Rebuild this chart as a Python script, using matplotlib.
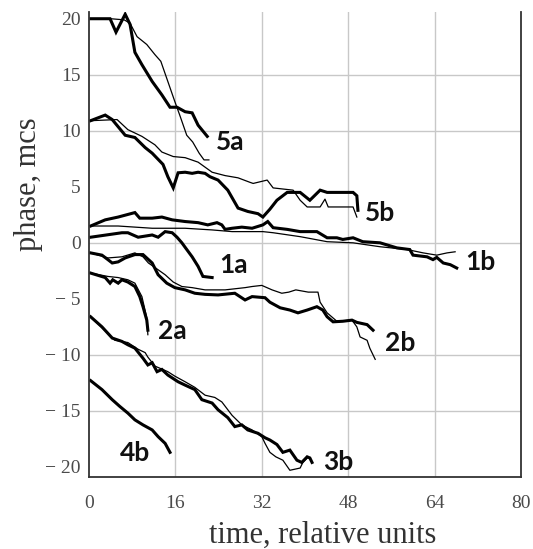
import matplotlib
matplotlib.use("Agg")
import matplotlib.pyplot as plt

# phase curves, thick = measured, thin = second run
x_5a_thick = [0.3, 3.9, 5.0, 6.7, 7.6, 8.5, 9.8, 11.7, 13.5, 15.0, 16.3, 17.8, 19.1, 20.2, 21.9]
y_5a_thick = [20.0, 20.0, 18.8, 20.4, 19.5, 17.0, 15.9, 14.4, 13.2, 12.1, 12.1, 11.7, 11.6, 10.5, 9.5]
x_5a_thin = [0.3, 4.0, 6.5, 7.6, 8.9, 10.7, 12.2, 13.3, 14.6, 15.9, 16.8, 18.1, 19.2, 20.4, 21.3, 22.2]
y_5a_thin = [20.0, 20.0, 19.9, 19.6, 18.4, 17.7, 16.8, 16.2, 14.4, 12.6, 11.4, 9.6, 9.0, 8.0, 7.4, 7.4]

x_5b_thick = [0.3, 3.0, 4.3, 6.7, 8.5, 10.4, 11.7, 13.7, 14.6, 15.6, 16.5, 17.8, 19.1, 20.2, 21.5,
              22.4, 23.9, 25.7, 27.6, 29.4, 31.3, 32.2, 33.5, 34.8, 36.7, 39.1, 40.9, 42.8, 44.1,
              45.2, 48.9, 49.6, 49.8]
y_5b_thick = [10.9, 11.4, 11.0, 9.6, 9.4, 8.5, 8.0, 7.0, 5.9, 4.9, 6.25, 6.3, 6.2, 6.3, 6.2,
              5.9, 5.6, 4.7, 3.1, 2.8, 2.6, 2.3, 3.0, 3.8, 4.5, 4.5, 3.8, 4.7, 4.5,
              4.5, 4.5, 4.2, 2.9]
x_5b_thin = [0.3, 5.2, 7.2, 9.8, 12.2, 13.5, 15.6, 17.8, 20.2, 22.8, 25.2, 27.6, 29.8, 30.4,
             33.0, 34.1, 37.8, 39.1, 40.4, 42.8, 43.7, 44.3, 48.9, 49.6]
y_5b_thin = [10.9, 11.0, 10.1, 9.5, 8.75, 8.1, 7.7, 7.6, 7.2, 6.3, 6.0, 5.8, 5.4, 5.3,
             5.6, 4.9, 4.7, 3.8, 3.2, 3.2, 3.9, 3.2, 3.2, 2.3]

x_1a_thick = [0.3, 6.1, 7.2, 9.1, 11.7, 12.8, 14.1, 15.4, 16.3, 17.2, 17.8, 19.1, 20.2, 21.1, 22.8]
y_1a_thick = [0.5, 0.9, 0.9, 0.5, 0.7, 0.5, 1.0, 0.9, 0.5, 0.0, -0.4, -1.25, -2.1, -3.0, -3.1]

x_1b_thick = [0.3, 3.0, 5.4, 8.5, 9.4, 11.7, 13.5, 15.4, 17.8, 20.2, 22.0, 23.7, 24.6, 25.2,
              26.5, 28.3, 30.2, 32.2, 33.1, 34.1, 36.7, 39.1, 42.2, 44.1, 45.9, 47.0, 48.9,
              50.7, 53.9, 57.0, 59.4, 60.0, 62.6, 63.7, 64.4, 65.6, 66.9, 68.1]
y_1b_thick = [1.5, 2.05, 2.3, 2.7, 2.2, 2.2, 2.3, 2.05, 1.9, 1.8, 1.6, 1.8, 1.6, 1.2,
              1.3, 1.4, 1.3, 1.6, 1.9, 1.35, 1.2, 1.0, 1.0, 0.45, 0.45, 0.3, 0.45,
              0.1, 0.0, -0.45, -0.6, -1.1, -1.25, -1.5, -1.3, -1.8, -1.95, -2.25]
x_1b_thin = [0.3, 5.4, 11.7, 17.8, 22.8, 26.5, 32.2, 34.1, 39.1, 44.1, 48.9, 53.9, 58.9,
             61.9, 64.4, 66.3, 67.8]
y_1b_thin = [1.5, 1.5, 1.3, 1.3, 1.15, 1.0, 1.0, 0.9, 0.55, 0.1, 0.0, -0.35, -0.6,
             -0.9, -1.1, -0.9, -0.8]

x_2b_thick = [0.3, 2.4, 3.5, 4.3, 5.4, 6.7, 8.5, 10.0, 11.7, 12.8, 14.4, 15.9, 17.8, 19.6,
              21.5, 23.9, 27.0, 28.9, 30.2, 32.6, 33.5, 35.4, 37.2, 38.7, 40.4, 42.2, 43.3,
              44.1, 45.2, 47.0, 48.7, 49.6, 51.5, 52.6]
y_2b_thick = [-0.9, -1.1, -1.5, -1.8, -1.7, -1.35, -1.05, -1.05, -1.8, -2.85, -3.6, -4.0, -4.2, -4.5,
              -4.6, -4.65, -4.5, -5.1, -4.8, -4.9, -5.3, -5.8, -6.0, -6.25, -6.0, -5.7, -6.0,
              -6.6, -7.05, -7.0, -6.9, -7.1, -7.3, -7.8]
x_2b_thin = [0.3, 3.5, 6.1, 8.5, 10.0, 11.0, 12.2, 14.1, 15.6, 17.2, 19.1, 21.5, 25.2, 28.9,
             30.2, 32.0, 33.9, 35.7, 37.0, 38.3, 40.6, 42.4, 42.8, 44.1, 45.9, 48.7, 49.6,
             50.2, 51.5, 52.0, 53.0]
y_2b_thin = [-0.9, -1.35, -1.25, -0.9, -1.25, -1.8, -2.2, -2.85, -3.5, -3.9, -4.0, -4.2, -4.2, -4.0,
             -3.9, -3.8, -4.2, -4.5, -4.4, -4.2, -4.4, -4.4, -5.3, -6.25, -7.0, -6.9, -7.5,
             -8.4, -8.7, -9.4, -10.4]

x_2a_thick = [0.3, 3.0, 3.9, 4.4, 5.4, 6.1, 7.2, 8.5, 9.4, 10.0, 10.7, 10.9]
y_2a_thick = [-2.7, -3.1, -3.6, -3.3, -3.6, -3.3, -3.5, -3.9, -4.8, -5.7, -6.9, -7.8]
x_2a_thin = [0.3, 3.5, 5.4, 7.2, 8.5, 9.8, 10.7, 10.9]
y_2a_thin = [-2.7, -3.0, -3.1, -3.3, -3.6, -4.8, -6.7, -8.2]

x_3b_thick = [0.3, 2.4, 4.3, 6.1, 7.2, 8.5, 10.0, 10.9, 11.7, 12.6, 13.5, 14.6, 16.5, 17.8,
              19.6, 20.9, 22.8, 23.9, 25.7, 27.0, 28.3, 29.4, 31.3, 32.6, 33.5, 34.8, 35.9,
              37.2, 38.5, 39.4, 40.4, 40.9, 41.3]
y_3b_thick = [-6.6, -7.5, -8.5, -8.8, -9.1, -9.4, -10.3, -10.9, -10.7, -11.5, -11.3, -11.8, -12.4, -12.7,
              -13.1, -14.0, -14.3, -14.9, -15.6, -16.4, -16.25, -16.7, -17.0, -17.4, -17.6, -18.0, -18.7,
              -18.5, -19.4, -19.6, -19.1, -19.2, -19.6]
x_3b_thin = [0.3, 4.8, 7.2, 9.1, 10.4, 10.9, 12.2, 14.6, 15.9, 17.8, 19.6, 21.5, 23.3, 24.6,
             26.5, 28.3, 30.2, 32.0, 32.6, 33.5, 34.6, 35.9, 37.2, 39.1, 39.6, 40.6]
y_3b_thin = [-6.6, -8.7, -8.9, -9.5, -9.8, -10.2, -11.0, -11.5, -11.9, -12.4, -12.9, -13.6, -13.8, -14.2,
             -15.4, -16.25, -16.7, -17.3, -17.9, -18.7, -19.1, -19.4, -20.3, -20.1, -19.6, -19.1]

x_4b_thick = [0.3, 2.4, 4.3, 5.7, 7.2, 8.5, 10.0, 11.7, 12.8, 14.1, 15.0]
y_4b_thick = [-12.3, -13.1, -14.0, -14.6, -15.2, -15.8, -16.25, -16.7, -17.3, -17.9, -18.7]

curve_names = ["5a", "5b", "1a", "1b", "2a", "2b", "3b", "4b"]
x_ticks = [0, 16, 32, 48, 64, 80]
y_ticks = [-20, -15, -10, -5, 0, 5, 10, 15, 20]
h_grid = [-15, -10, 0, 10, 15]

fig = plt.figure(figsize=(5.33, 5.49), dpi=100)
ax = fig.add_axes([89 / 533, 1 - 477 / 549, (521 - 89) / 533, (477 - 12) / 549])

ax.set_xlim(0, 80)
ax.set_ylim(-20.9, 20.6)

for xv in x_ticks[1:-1]:
    ax.axvline(xv, color="#c8c8c8", lw=1.0, zorder=0)
for yv in h_grid:
    ax.axhline(yv, color="#c8c8c8", lw=1.0, zorder=0)

thick = dict(color="black", lw=2.2, solid_joinstyle="miter")
thin = dict(color="black", lw=0.9)

ax.plot(x_5a_thin, y_5a_thin, **thin)
ax.plot(x_5a_thick, y_5a_thick, **thick)
ax.plot(x_5b_thin, y_5b_thin, **thin)
ax.plot(x_5b_thick, y_5b_thick, **thick)
ax.plot(x_1a_thick, y_1a_thick, **thick)
ax.plot(x_1b_thin, y_1b_thin, **thin)
ax.plot(x_1b_thick, y_1b_thick, **thick)
ax.plot(x_2a_thin, y_2a_thin, **thin)
ax.plot(x_2a_thick, y_2a_thick, **thick)
ax.plot(x_2b_thin, y_2b_thin, **thin)
ax.plot(x_2b_thick, y_2b_thick, **thick)
ax.plot(x_3b_thin, y_3b_thin, **thin)
ax.plot(x_3b_thick, y_3b_thick, **thick)
ax.plot(x_4b_thick, y_4b_thick, **thick)

label_pos = [(26.1, 9.0), (53.9, 2.7), (26.7, -2.0), (72.4, -1.7),
             (15.4, -7.9), (57.6, -8.9), (46.1, -19.6), (8.5, -18.75)]
for name, (lx, ly) in zip(curve_names, label_pos):
    ax.text(lx, ly, name, fontsize=19, fontweight="bold", family="Lato",
            ha="center", va="center", color="#111111")

ax.set_xticks(x_ticks)
ax.set_yticks(y_ticks)
ax.set_yticklabels([("\u2212 " + str(-v)) if v < 0 else str(v) for v in y_ticks])
ax.tick_params(length=0, labelsize=14, labelcolor="#4a4a4a")
ax.tick_params(axis="x", pad=13)
ax.tick_params(axis="y", pad=6)
for lab in ax.get_xticklabels() + ax.get_yticklabels():
    lab.set_family("Liberation Serif")

ax.spines["top"].set_visible(False)
for side in ("left", "bottom", "right"):
    ax.spines[side].set_color("#333333")
    ax.spines[side].set_linewidth(1.3)

ax.set_xlabel("time, relative units", family="Liberation Serif", fontsize=22,
              color="#333333")
ax.xaxis.set_label_coords(0.54, -0.095)
ax.set_ylabel("phase, mcs", family="Liberation Serif", fontsize=22,
              color="#333333")
ax.yaxis.set_label_coords(-0.106, 0.63)

fig.savefig("out.png", dpi=100)
